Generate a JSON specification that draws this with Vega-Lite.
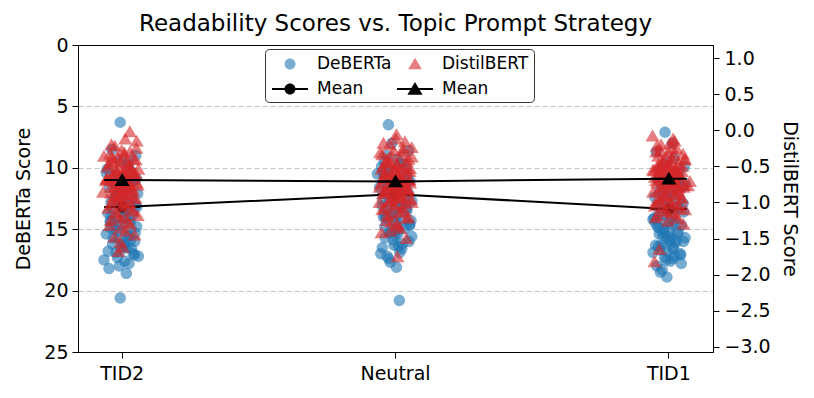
{
  "$schema": "https://vega.github.io/schema/vega-lite/v6.json",
  "autosize": "none",
  "padding": {"left": 78, "top": 45, "right": 101, "bottom": 46},
  "width": 635,
  "height": 307,
  "title": {"text": "Readability Scores vs. Topic Prompt Strategy", "fontSize": 23, "font": "DejaVu Sans", "fontWeight": "normal", "color": "black", "offset": 0},
  "config": {
    "font": "DejaVu Sans",
    "view": {"stroke": "black", "strokeWidth": 1},
    "axis": {"domainColor": "black", "tickColor": "black", "labelColor": "black", "titleColor": "black", "titleFontWeight": "normal", "labelFont": "DejaVu Sans", "titleFont": "DejaVu Sans", "tickSize": 6, "labelFontSize": 19, "titleFontSize": 19, "labelPadding": 4},
    "legend": {"orient": "none", "legendX": 187, "legendY": 4, "columns": 2, "title": null, "symbolSize": 400, "symbolOffset": 10, "labelFontSize": 17, "labelFont": "DejaVu Sans", "labelColor": "black", "padding": 5, "fillColor": "white", "strokeColor": "#333", "cornerRadius": 4, "columnPadding": 3, "rowPadding": 7, "labelOffset": 17, "symbolStrokeWidth": 0, "symbolOpacity": 1}
  },
  "datasets": {
    "deb": [
      {"p":"TID2","v":6.3,"j":-0.1},{"p":"TID2","v":8.5,"j":-0.54},{"p":"TID2","v":9.0,"j":0.71},{"p":"TID2","v":9.4,"j":-0.08},{"p":"TID2","v":9.8,"j":0.33},{"p":"TID2","v":10.1,"j":-0.77},{"p":"TID2","v":10.3,"j":0.46},{"p":"TID2","v":10.6,"j":-0.29},{"p":"TID2","v":10.8,"j":0.05},{"p":"TID2","v":11.0,"j":0.62},
      {"p":"TID2","v":11.2,"j":-0.41},{"p":"TID2","v":11.4,"j":0.18},{"p":"TID2","v":11.6,"j":-0.66},{"p":"TID2","v":11.8,"j":0.27},{"p":"TID2","v":12.0,"j":-0.12},{"p":"TID2","v":12.1,"j":0.81},{"p":"TID2","v":12.3,"j":-0.35},{"p":"TID2","v":12.5,"j":0.52},{"p":"TID2","v":12.6,"j":-0.02},{"p":"TID2","v":12.8,"j":-0.58},
      {"p":"TID2","v":12.9,"j":0.39},{"p":"TID2","v":13.0,"j":-0.19},{"p":"TID2","v":13.1,"j":0.68},{"p":"TID2","v":13.3,"j":-0.47},{"p":"TID2","v":13.4,"j":0.09},{"p":"TID2","v":13.5,"j":0.24},{"p":"TID2","v":13.7,"j":-0.73},{"p":"TID2","v":13.8,"j":0.57},{"p":"TID2","v":14.0,"j":-0.25},{"p":"TID2","v":14.1,"j":0.14},
      {"p":"TID2","v":14.3,"j":-0.6},{"p":"TID2","v":14.5,"j":0.43},{"p":"TID2","v":14.6,"j":-0.06},{"p":"TID2","v":14.8,"j":0.76},{"p":"TID2","v":15.0,"j":-0.38},{"p":"TID2","v":15.2,"j":0.2},{"p":"TID2","v":15.4,"j":-0.83},{"p":"TID2","v":15.6,"j":0.31},{"p":"TID2","v":15.8,"j":-0.15},{"p":"TID2","v":16.0,"j":0.65},
      {"p":"TID2","v":16.2,"j":-0.5},{"p":"TID2","v":16.4,"j":0.02},{"p":"TID2","v":16.6,"j":0.49},{"p":"TID2","v":16.9,"j":-0.32},{"p":"TID2","v":17.2,"j":0.85},{"p":"TID2","v":17.5,"j":-0.95},{"p":"TID2","v":17.8,"j":0.36},{"p":"TID2","v":18.2,"j":-0.69},{"p":"TID2","v":18.6,"j":0.22},{"p":"TID2","v":20.6,"j":-0.1},
      {"p":"TID2","v":11.1,"j":0.59},{"p":"TID2","v":12.2,"j":-0.22},{"p":"TID2","v":13.6,"j":0.07},{"p":"TID2","v":14.4,"j":-0.63},{"p":"TID2","v":15.5,"j":0.41},{"p":"TID2","v":12.7,"j":-0.03},{"p":"TID2","v":10.9,"j":0.74},{"p":"TID2","v":13.9,"j":-0.56},{"p":"TID2","v":16.3,"j":0.16},{"p":"TID2","v":15.1,"j":-0.27},
      {"p":"TID2","v":14.2,"j":0.39},{"p":"TID2","v":14.7,"j":-0.19},{"p":"TID2","v":15.3,"j":0.68},{"p":"TID2","v":15.7,"j":-0.47},{"p":"TID2","v":16.1,"j":0.09},{"p":"TID2","v":16.5,"j":0.24},{"p":"TID2","v":16.8,"j":-0.73},{"p":"TID2","v":17.0,"j":0.57},{"p":"TID2","v":17.3,"j":-0.25},{"p":"TID2","v":17.6,"j":0.14},
      {"p":"TID2","v":14.9,"j":-0.6},{"p":"TID2","v":15.9,"j":0.43},{"p":"TID2","v":16.7,"j":-0.06},{"p":"TID2","v":13.2,"j":0.76},{"p":"TID2","v":12.4,"j":-0.38},{"p":"TID2","v":11.5,"j":0.2},{"p":"TID2","v":10.4,"j":-0.83},{"p":"TID2","v":9.6,"j":0.31},{"p":"TID2","v":18.0,"j":-0.15},{"p":"TID2","v":17.1,"j":0.65},
      {"p":"Neutral","v":6.5,"j":-0.37},{"p":"Neutral","v":8.0,"j":-0.19},{"p":"Neutral","v":8.6,"j":0.68},{"p":"Neutral","v":9.0,"j":-0.47},{"p":"Neutral","v":9.3,"j":0.09},{"p":"Neutral","v":9.6,"j":0.24},{"p":"Neutral","v":9.9,"j":-0.73},{"p":"Neutral","v":10.1,"j":0.57},{"p":"Neutral","v":10.3,"j":-0.25},{"p":"Neutral","v":10.5,"j":-0.95},
      {"p":"Neutral","v":10.6,"j":-0.6},{"p":"Neutral","v":10.8,"j":0.43},{"p":"Neutral","v":11.0,"j":-0.06},{"p":"Neutral","v":11.1,"j":0.76},{"p":"Neutral","v":11.3,"j":-0.38},{"p":"Neutral","v":11.4,"j":0.2},{"p":"Neutral","v":11.6,"j":-0.83},{"p":"Neutral","v":11.7,"j":0.31},{"p":"Neutral","v":11.9,"j":-0.15},{"p":"Neutral","v":12.0,"j":0.65},
      {"p":"Neutral","v":12.1,"j":-0.5},{"p":"Neutral","v":12.3,"j":0.02},{"p":"Neutral","v":12.4,"j":0.49},{"p":"Neutral","v":12.5,"j":-0.32},{"p":"Neutral","v":12.7,"j":0.85},{"p":"Neutral","v":12.8,"j":-0.1},{"p":"Neutral","v":12.9,"j":0.36},{"p":"Neutral","v":13.1,"j":-0.69},{"p":"Neutral","v":13.2,"j":0.22},{"p":"Neutral","v":13.4,"j":-0.44},
      {"p":"Neutral","v":13.5,"j":0.59},{"p":"Neutral","v":13.7,"j":-0.22},{"p":"Neutral","v":13.9,"j":0.07},{"p":"Neutral","v":14.0,"j":-0.63},{"p":"Neutral","v":14.2,"j":0.41},{"p":"Neutral","v":14.4,"j":-0.03},{"p":"Neutral","v":14.6,"j":0.74},{"p":"Neutral","v":14.8,"j":-0.56},{"p":"Neutral","v":15.0,"j":0.16},{"p":"Neutral","v":15.2,"j":-0.27},
      {"p":"Neutral","v":15.4,"j":0.12},{"p":"Neutral","v":15.7,"j":-0.54},{"p":"Neutral","v":16.0,"j":0.71},{"p":"Neutral","v":16.3,"j":-0.08},{"p":"Neutral","v":16.6,"j":0.33},{"p":"Neutral","v":17.0,"j":-0.77},{"p":"Neutral","v":17.4,"j":-0.35},{"p":"Neutral","v":18.1,"j":0.05},{"p":"Neutral","v":20.8,"j":0.2},{"p":"Neutral","v":10.7,"j":0.62},
      {"p":"Neutral","v":11.5,"j":-0.41},{"p":"Neutral","v":12.2,"j":0.18},{"p":"Neutral","v":12.6,"j":-0.66},{"p":"Neutral","v":13.0,"j":0.27},{"p":"Neutral","v":13.6,"j":-0.12},{"p":"Neutral","v":14.3,"j":0.81},{"p":"Neutral","v":10.2,"j":-0.35},{"p":"Neutral","v":11.8,"j":0.52},{"p":"Neutral","v":15.5,"j":-0.02},{"p":"Neutral","v":9.5,"j":-0.58},
      {"p":"Neutral","v":14.1,"j":-0.5},{"p":"Neutral","v":14.5,"j":0.02},{"p":"Neutral","v":14.9,"j":0.49},{"p":"Neutral","v":15.3,"j":-0.32},{"p":"Neutral","v":15.6,"j":0.85},{"p":"Neutral","v":15.9,"j":-0.1},{"p":"Neutral","v":16.2,"j":0.36},{"p":"Neutral","v":16.5,"j":-0.69},{"p":"Neutral","v":16.9,"j":0.22},{"p":"Neutral","v":17.2,"j":-0.44},
      {"p":"Neutral","v":13.3,"j":0.59},{"p":"Neutral","v":12.0,"j":-0.22},{"p":"Neutral","v":11.2,"j":0.07},{"p":"Neutral","v":10.4,"j":-0.63},{"p":"Neutral","v":9.7,"j":0.41},{"p":"Neutral","v":15.1,"j":-0.03},{"p":"Neutral","v":14.7,"j":0.74},{"p":"Neutral","v":13.8,"j":-0.56},{"p":"Neutral","v":16.4,"j":0.16},{"p":"Neutral","v":17.7,"j":-0.27},
      {"p":"TID1","v":7.1,"j":-0.2},{"p":"TID1","v":8.0,"j":0.18},{"p":"TID1","v":8.7,"j":-0.66},{"p":"TID1","v":9.2,"j":0.27},{"p":"TID1","v":9.6,"j":-0.12},{"p":"TID1","v":9.9,"j":0.81},{"p":"TID1","v":10.2,"j":-0.35},{"p":"TID1","v":10.5,"j":0.52},{"p":"TID1","v":10.7,"j":-0.02},{"p":"TID1","v":11.0,"j":-0.58},
      {"p":"TID1","v":11.2,"j":0.39},{"p":"TID1","v":11.4,"j":-0.19},{"p":"TID1","v":11.6,"j":0.68},{"p":"TID1","v":11.8,"j":-0.47},{"p":"TID1","v":12.0,"j":0.09},{"p":"TID1","v":12.2,"j":0.24},{"p":"TID1","v":12.4,"j":-0.73},{"p":"TID1","v":12.6,"j":0.57},{"p":"TID1","v":12.8,"j":-0.25},{"p":"TID1","v":13.0,"j":0.14},
      {"p":"TID1","v":13.1,"j":-0.6},{"p":"TID1","v":13.3,"j":0.43},{"p":"TID1","v":13.5,"j":-0.06},{"p":"TID1","v":13.6,"j":0.76},{"p":"TID1","v":13.8,"j":-0.38},{"p":"TID1","v":14.0,"j":0.2},{"p":"TID1","v":14.2,"j":-0.83},{"p":"TID1","v":14.4,"j":0.31},{"p":"TID1","v":14.5,"j":-0.15},{"p":"TID1","v":14.7,"j":0.65},
      {"p":"TID1","v":14.9,"j":-0.5},{"p":"TID1","v":15.1,"j":0.02},{"p":"TID1","v":15.3,"j":0.49},{"p":"TID1","v":15.5,"j":-0.32},{"p":"TID1","v":15.7,"j":0.85},{"p":"TID1","v":15.9,"j":-0.1},{"p":"TID1","v":16.1,"j":0.36},{"p":"TID1","v":16.3,"j":-0.69},{"p":"TID1","v":16.5,"j":0.22},{"p":"TID1","v":16.7,"j":-0.44},
      {"p":"TID1","v":17.0,"j":0.59},{"p":"TID1","v":17.3,"j":-0.22},{"p":"TID1","v":17.6,"j":0.07},{"p":"TID1","v":18.0,"j":-0.63},{"p":"TID1","v":18.3,"j":-0.35},{"p":"TID1","v":18.9,"j":-0.1},{"p":"TID1","v":12.9,"j":0.74},{"p":"TID1","v":13.9,"j":-0.56},{"p":"TID1","v":14.6,"j":0.16},{"p":"TID1","v":15.2,"j":-0.27},
      {"p":"TID1","v":15.8,"j":0.12},{"p":"TID1","v":16.4,"j":-0.54},{"p":"TID1","v":11.5,"j":0.71},{"p":"TID1","v":12.5,"j":-0.08},{"p":"TID1","v":13.4,"j":0.33},{"p":"TID1","v":14.1,"j":-0.77},{"p":"TID1","v":10.9,"j":0.46},{"p":"TID1","v":15.0,"j":-0.29},{"p":"TID1","v":16.0,"j":0.05},{"p":"TID1","v":17.1,"j":0.62},
      {"p":"TID1","v":14.8,"j":-0.6},{"p":"TID1","v":15.2,"j":0.43},{"p":"TID1","v":15.6,"j":-0.06},{"p":"TID1","v":16.0,"j":0.76},{"p":"TID1","v":16.3,"j":-0.38},{"p":"TID1","v":16.6,"j":0.2},{"p":"TID1","v":16.9,"j":-0.83},{"p":"TID1","v":17.2,"j":0.31},{"p":"TID1","v":17.5,"j":-0.15},{"p":"TID1","v":17.8,"j":0.65},
      {"p":"TID1","v":15.4,"j":-0.5},{"p":"TID1","v":14.3,"j":0.02},{"p":"TID1","v":13.2,"j":0.49},{"p":"TID1","v":12.1,"j":-0.32},{"p":"TID1","v":11.3,"j":0.85},{"p":"TID1","v":16.8,"j":-0.1},{"p":"TID1","v":15.9,"j":0.36},{"p":"TID1","v":14.5,"j":-0.69},{"p":"TID1","v":17.4,"j":0.22},{"p":"TID1","v":18.5,"j":-0.44}
    ],
    "dis": [
      {"p":"TID2","v":-0.02,"j":0.4},{"p":"TID2","v":-0.12,"j":0.16},{"p":"TID2","v":-0.2,"j":-0.56},{"p":"TID2","v":-0.25,"j":0.74},{"p":"TID2","v":-0.28,"j":-0.03},{"p":"TID2","v":-0.3,"j":0.41},{"p":"TID2","v":-0.33,"j":-0.63},{"p":"TID2","v":-0.36,"j":-0.95},{"p":"TID2","v":-0.38,"j":-0.22},{"p":"TID2","v":-0.4,"j":0.59},
      {"p":"TID2","v":-0.42,"j":-0.44},{"p":"TID2","v":-0.45,"j":0.22},{"p":"TID2","v":-0.47,"j":-0.69},{"p":"TID2","v":-0.5,"j":0.36},{"p":"TID2","v":-0.52,"j":-0.1},{"p":"TID2","v":-0.54,"j":0.85},{"p":"TID2","v":-0.56,"j":-0.32},{"p":"TID2","v":-0.58,"j":0.49},{"p":"TID2","v":-0.6,"j":0.02},{"p":"TID2","v":-0.62,"j":-0.5},
      {"p":"TID2","v":-0.63,"j":0.65},{"p":"TID2","v":-0.65,"j":-0.15},{"p":"TID2","v":-0.67,"j":0.31},{"p":"TID2","v":-0.68,"j":-0.83},{"p":"TID2","v":-0.7,"j":0.2},{"p":"TID2","v":-0.71,"j":-0.38},{"p":"TID2","v":-0.73,"j":0.76},{"p":"TID2","v":-0.75,"j":-0.06},{"p":"TID2","v":-0.77,"j":0.43},{"p":"TID2","v":-0.79,"j":-0.6},
      {"p":"TID2","v":-0.8,"j":0.14},{"p":"TID2","v":-0.82,"j":-0.25},{"p":"TID2","v":-0.84,"j":0.57},{"p":"TID2","v":-0.86,"j":-1.0},{"p":"TID2","v":-0.88,"j":0.24},{"p":"TID2","v":-0.9,"j":0.09},{"p":"TID2","v":-0.92,"j":-0.47},{"p":"TID2","v":-0.95,"j":0.68},{"p":"TID2","v":-0.98,"j":-0.19},{"p":"TID2","v":-1.0,"j":0.39},
      {"p":"TID2","v":-1.03,"j":-0.58},{"p":"TID2","v":-1.06,"j":-0.02},{"p":"TID2","v":-1.1,"j":0.52},{"p":"TID2","v":-1.14,"j":-0.35},{"p":"TID2","v":-1.18,"j":0.81},{"p":"TID2","v":-1.22,"j":-0.12},{"p":"TID2","v":-1.27,"j":0.27},{"p":"TID2","v":-1.32,"j":-0.66},{"p":"TID2","v":-1.4,"j":0.18},{"p":"TID2","v":-1.48,"j":-0.41},
      {"p":"TID2","v":-1.55,"j":-0.1},{"p":"TID2","v":-1.62,"j":0.05},{"p":"TID2","v":-1.68,"j":-0.2},{"p":"TID2","v":-0.55,"j":0.46},{"p":"TID2","v":-0.66,"j":-0.77},{"p":"TID2","v":-0.74,"j":0.33},{"p":"TID2","v":-0.85,"j":-0.08},{"p":"TID2","v":-0.6,"j":0.71},{"p":"TID2","v":-0.45,"j":-0.54},{"p":"TID2","v":-0.35,"j":0.12},
      {"p":"TID2","v":-0.31,"j":0.12},{"p":"TID2","v":-0.37,"j":-0.54},{"p":"TID2","v":-0.41,"j":0.71},{"p":"TID2","v":-0.44,"j":-0.08},{"p":"TID2","v":-0.48,"j":0.33},{"p":"TID2","v":-0.51,"j":-0.77},{"p":"TID2","v":-0.53,"j":0.46},{"p":"TID2","v":-0.57,"j":-0.29},{"p":"TID2","v":-0.59,"j":0.05},{"p":"TID2","v":-0.61,"j":0.62},
      {"p":"TID2","v":-0.64,"j":-0.41},{"p":"TID2","v":-0.66,"j":0.18},{"p":"TID2","v":-0.69,"j":-0.66},{"p":"TID2","v":-0.72,"j":0.27},{"p":"TID2","v":-0.74,"j":-0.12},{"p":"TID2","v":-0.76,"j":0.81},{"p":"TID2","v":-0.78,"j":-0.35},{"p":"TID2","v":-0.81,"j":0.52},{"p":"TID2","v":-0.83,"j":-0.02},{"p":"TID2","v":-0.87,"j":-0.58},
      {"p":"TID2","v":-0.89,"j":0.39},{"p":"TID2","v":-0.91,"j":-0.19},{"p":"TID2","v":-0.94,"j":0.68},{"p":"TID2","v":-0.97,"j":-0.47},{"p":"TID2","v":-1.01,"j":0.09},{"p":"TID2","v":-1.04,"j":0.24},{"p":"TID2","v":-1.08,"j":-0.73},{"p":"TID2","v":-1.12,"j":0.57},{"p":"TID2","v":-1.16,"j":-0.25},{"p":"TID2","v":-1.2,"j":0.14},
      {"p":"TID2","v":-1.25,"j":-0.6},{"p":"TID2","v":-1.3,"j":0.43},{"p":"TID2","v":-1.35,"j":-0.06},{"p":"TID2","v":-0.15,"j":0.76},{"p":"TID2","v":-0.22,"j":-0.38},{"p":"TID2","v":-0.62,"j":0.2},{"p":"TID2","v":-0.7,"j":-0.83},{"p":"TID2","v":-0.79,"j":0.31},{"p":"TID2","v":-0.93,"j":-0.15},{"p":"TID2","v":-1.45,"j":0.65},
      {"p":"Neutral","v":-0.06,"j":0.05},{"p":"Neutral","v":-0.12,"j":0.02},{"p":"Neutral","v":-0.16,"j":0.49},{"p":"Neutral","v":-0.2,"j":-0.32},{"p":"Neutral","v":-0.24,"j":0.85},{"p":"Neutral","v":-0.28,"j":-0.1},{"p":"Neutral","v":-0.31,"j":-0.8},{"p":"Neutral","v":-0.34,"j":-0.69},{"p":"Neutral","v":-0.37,"j":0.85},{"p":"Neutral","v":-0.4,"j":-0.44},
      {"p":"Neutral","v":-0.43,"j":0.59},{"p":"Neutral","v":-0.46,"j":-0.22},{"p":"Neutral","v":-0.48,"j":0.07},{"p":"Neutral","v":-0.5,"j":-0.63},{"p":"Neutral","v":-0.52,"j":0.41},{"p":"Neutral","v":-0.55,"j":-0.03},{"p":"Neutral","v":-0.57,"j":0.74},{"p":"Neutral","v":-0.59,"j":-0.56},{"p":"Neutral","v":-0.61,"j":0.16},{"p":"Neutral","v":-0.63,"j":-0.27},
      {"p":"Neutral","v":-0.65,"j":0.12},{"p":"Neutral","v":-0.67,"j":-0.54},{"p":"Neutral","v":-0.69,"j":0.71},{"p":"Neutral","v":-0.7,"j":-0.08},{"p":"Neutral","v":-0.72,"j":0.33},{"p":"Neutral","v":-0.74,"j":-0.77},{"p":"Neutral","v":-0.76,"j":0.46},{"p":"Neutral","v":-0.78,"j":-0.29},{"p":"Neutral","v":-0.8,"j":0.05},{"p":"Neutral","v":-0.82,"j":0.62},
      {"p":"Neutral","v":-0.84,"j":-0.41},{"p":"Neutral","v":-0.86,"j":0.18},{"p":"Neutral","v":-0.88,"j":-0.66},{"p":"Neutral","v":-0.9,"j":0.27},{"p":"Neutral","v":-0.93,"j":-0.12},{"p":"Neutral","v":-0.96,"j":0.81},{"p":"Neutral","v":-0.99,"j":-0.35},{"p":"Neutral","v":-1.02,"j":0.52},{"p":"Neutral","v":-1.05,"j":-0.02},{"p":"Neutral","v":-1.08,"j":-0.58},
      {"p":"Neutral","v":-1.12,"j":0.39},{"p":"Neutral","v":-1.16,"j":-0.19},{"p":"Neutral","v":-1.2,"j":0.68},{"p":"Neutral","v":-1.25,"j":-0.47},{"p":"Neutral","v":-1.3,"j":0.09},{"p":"Neutral","v":-1.36,"j":0.24},{"p":"Neutral","v":-1.42,"j":-0.73},{"p":"Neutral","v":-1.5,"j":0.57},{"p":"Neutral","v":-1.75,"j":0.1},{"p":"Neutral","v":-0.6,"j":0.14},
      {"p":"Neutral","v":-0.64,"j":-0.6},{"p":"Neutral","v":-0.71,"j":0.43},{"p":"Neutral","v":-0.77,"j":-0.06},{"p":"Neutral","v":-0.53,"j":0.76},{"p":"Neutral","v":-0.44,"j":-0.38},{"p":"Neutral","v":-0.92,"j":0.2},{"p":"Neutral","v":-1.0,"j":-0.83},{"p":"Neutral","v":-0.35,"j":0.31},{"p":"Neutral","v":-0.68,"j":-0.15},{"p":"Neutral","v":-0.81,"j":0.65},
      {"p":"Neutral","v":-0.29,"j":0.39},{"p":"Neutral","v":-0.36,"j":-0.19},{"p":"Neutral","v":-0.4,"j":0.68},{"p":"Neutral","v":-0.45,"j":-0.47},{"p":"Neutral","v":-0.47,"j":0.09},{"p":"Neutral","v":-0.51,"j":0.24},{"p":"Neutral","v":-0.54,"j":-0.73},{"p":"Neutral","v":-0.56,"j":0.57},{"p":"Neutral","v":-0.6,"j":-0.25},{"p":"Neutral","v":-0.62,"j":0.14},
      {"p":"Neutral","v":-0.65,"j":-0.6},{"p":"Neutral","v":-0.66,"j":0.43},{"p":"Neutral","v":-0.7,"j":-0.06},{"p":"Neutral","v":-0.73,"j":0.76},{"p":"Neutral","v":-0.75,"j":-0.38},{"p":"Neutral","v":-0.77,"j":0.2},{"p":"Neutral","v":-0.79,"j":-0.83},{"p":"Neutral","v":-0.8,"j":0.31},{"p":"Neutral","v":-0.83,"j":-0.15},{"p":"Neutral","v":-0.85,"j":0.65},
      {"p":"Neutral","v":-0.87,"j":-0.5},{"p":"Neutral","v":-0.91,"j":0.02},{"p":"Neutral","v":-0.94,"j":0.49},{"p":"Neutral","v":-0.98,"j":-0.32},{"p":"Neutral","v":-1.0,"j":0.85},{"p":"Neutral","v":-1.03,"j":-0.1},{"p":"Neutral","v":-1.07,"j":0.36},{"p":"Neutral","v":-1.1,"j":-0.69},{"p":"Neutral","v":-1.14,"j":0.22},{"p":"Neutral","v":-1.18,"j":-0.44},
      {"p":"Neutral","v":-1.22,"j":0.59},{"p":"Neutral","v":-1.27,"j":-0.22},{"p":"Neutral","v":-1.33,"j":0.07},{"p":"Neutral","v":-0.18,"j":-0.63},{"p":"Neutral","v":-0.25,"j":0.41},{"p":"Neutral","v":-0.58,"j":-0.03},{"p":"Neutral","v":-0.69,"j":0.74},{"p":"Neutral","v":-0.84,"j":-0.56},{"p":"Neutral","v":-0.95,"j":0.16},{"p":"Neutral","v":-1.4,"j":-0.27},
      {"p":"TID1","v":-0.08,"j":-0.85},{"p":"TID1","v":-0.15,"j":0.3},{"p":"TID1","v":-0.18,"j":0.07},{"p":"TID1","v":-0.22,"j":-0.63},{"p":"TID1","v":-0.26,"j":0.41},{"p":"TID1","v":-0.3,"j":-0.03},{"p":"TID1","v":-0.33,"j":0.74},{"p":"TID1","v":-0.36,"j":-0.56},{"p":"TID1","v":-0.39,"j":0.16},{"p":"TID1","v":-0.42,"j":-0.27},
      {"p":"TID1","v":-0.45,"j":0.12},{"p":"TID1","v":-0.47,"j":-0.54},{"p":"TID1","v":-0.5,"j":0.71},{"p":"TID1","v":-0.52,"j":-0.08},{"p":"TID1","v":-0.54,"j":0.33},{"p":"TID1","v":-0.56,"j":-0.77},{"p":"TID1","v":-0.58,"j":0.46},{"p":"TID1","v":-0.6,"j":-0.29},{"p":"TID1","v":-0.62,"j":0.05},{"p":"TID1","v":-0.64,"j":0.62},
      {"p":"TID1","v":-0.66,"j":-0.41},{"p":"TID1","v":-0.68,"j":0.18},{"p":"TID1","v":-0.7,"j":-0.66},{"p":"TID1","v":-0.72,"j":0.27},{"p":"TID1","v":-0.74,"j":-0.12},{"p":"TID1","v":-0.76,"j":0.81},{"p":"TID1","v":-0.78,"j":-0.35},{"p":"TID1","v":-0.8,"j":0.52},{"p":"TID1","v":-0.82,"j":-0.02},{"p":"TID1","v":-0.85,"j":-0.58},
      {"p":"TID1","v":-0.88,"j":0.39},{"p":"TID1","v":-0.9,"j":-0.19},{"p":"TID1","v":-0.93,"j":0.68},{"p":"TID1","v":-0.96,"j":-0.47},{"p":"TID1","v":-0.99,"j":0.09},{"p":"TID1","v":-1.02,"j":0.24},{"p":"TID1","v":-1.05,"j":-0.73},{"p":"TID1","v":-1.08,"j":0.57},{"p":"TID1","v":-1.11,"j":-0.25},{"p":"TID1","v":-1.14,"j":0.14},
      {"p":"TID1","v":-1.18,"j":-0.6},{"p":"TID1","v":-1.22,"j":0.43},{"p":"TID1","v":-1.26,"j":-0.06},{"p":"TID1","v":-1.3,"j":0.76},{"p":"TID1","v":-1.65,"j":-0.5},{"p":"TID1","v":-1.82,"j":-0.75},{"p":"TID1","v":-0.55,"j":-0.83},{"p":"TID1","v":-0.63,"j":0.31},{"p":"TID1","v":-0.71,"j":1.1},{"p":"TID1","v":-0.77,"j":1.0},
      {"p":"TID1","v":-0.6,"j":-0.5},{"p":"TID1","v":-0.48,"j":0.02},{"p":"TID1","v":-0.84,"j":0.49},{"p":"TID1","v":-0.92,"j":-0.32},{"p":"TID1","v":-0.4,"j":0.85},{"p":"TID1","v":-0.67,"j":-0.1},{"p":"TID1","v":-0.73,"j":0.36},{"p":"TID1","v":-1.0,"j":-0.69},{"p":"TID1","v":-0.58,"j":0.22},{"p":"TID1","v":-0.5,"j":-0.44},
      {"p":"TID1","v":-0.2,"j":-0.41},{"p":"TID1","v":-0.25,"j":0.18},{"p":"TID1","v":-0.3,"j":-0.66},{"p":"TID1","v":-0.35,"j":0.27},{"p":"TID1","v":-0.38,"j":-0.12},{"p":"TID1","v":-0.41,"j":0.81},{"p":"TID1","v":-0.44,"j":-0.35},{"p":"TID1","v":-0.46,"j":0.52},{"p":"TID1","v":-0.49,"j":-0.02},{"p":"TID1","v":-0.51,"j":-0.58},
      {"p":"TID1","v":-0.53,"j":0.39},{"p":"TID1","v":-0.55,"j":-0.19},{"p":"TID1","v":-0.57,"j":0.68},{"p":"TID1","v":-0.59,"j":-0.47},{"p":"TID1","v":-0.61,"j":0.09},{"p":"TID1","v":-0.63,"j":0.24},{"p":"TID1","v":-0.65,"j":-0.73},{"p":"TID1","v":-0.67,"j":0.57},{"p":"TID1","v":-0.69,"j":-0.25},{"p":"TID1","v":-0.71,"j":0.14},
      {"p":"TID1","v":-0.73,"j":-0.6},{"p":"TID1","v":-0.75,"j":0.43},{"p":"TID1","v":-0.77,"j":-0.06},{"p":"TID1","v":-0.79,"j":0.76},{"p":"TID1","v":-0.81,"j":-0.38},{"p":"TID1","v":-0.83,"j":0.2},{"p":"TID1","v":-0.86,"j":-0.83},{"p":"TID1","v":-0.89,"j":0.31},{"p":"TID1","v":-0.92,"j":-0.15},{"p":"TID1","v":-0.95,"j":0.65},
      {"p":"TID1","v":-0.98,"j":-0.5},{"p":"TID1","v":-1.01,"j":0.02},{"p":"TID1","v":-1.04,"j":0.49},{"p":"TID1","v":-1.07,"j":-0.32},{"p":"TID1","v":-1.1,"j":0.85},{"p":"TID1","v":-1.13,"j":-0.1},{"p":"TID1","v":-1.17,"j":0.36},{"p":"TID1","v":-1.21,"j":-0.69},{"p":"TID1","v":-0.12,"j":0.22},{"p":"TID1","v":-0.28,"j":-0.44}
    ],
    "debMean": [{"p":"TID2","v":13.2},{"p":"Neutral","v":12.15},{"p":"TID1","v":13.35}],
    "disMean": [{"p":"TID2","v":-0.69},{"p":"Neutral","v":-0.71},{"p":"TID1","v":-0.67}]
  },
  "encoding": {
    "x": {"field": "p", "type": "nominal", "sort": ["TID2", "Neutral", "TID1"],
      "scale": {"paddingInner": 0.86, "paddingOuter": 0.0915},
      "axis": {"title": null, "labelAngle": 0, "grid": false, "labelPadding": 6}}
  },
  "layer": [
    {
      "encoding": {
        "y": {"field": "v", "type": "quantitative",
          "scale": {"domain": [0, 25], "reverse": true, "nice": false, "zero": false},
          "axis": {"orient": "left", "title": "DeBERTa Score", "values": [0, 5, 10, 15, 20, 25], "grid": true, "gridDash": [5, 3], "gridColor": "#c4c4c4", "gridWidth": 1,
            "gridOpacity": {"condition": {"test": "datum.value == 0 || datum.value == 25", "value": 0}, "value": 1}, "titlePadding": 10}}
      },
      "layer": [
        {
          "data": {"name": "deb"},
          "mark": {"type": "point", "filled": true, "size": 430, "opacity": 1},
          "encoding": {
            "xOffset": {"field": "j", "type": "quantitative", "scale": {"domain": [-1, 1]}},
            "color": {"datum": "DeBERTa", "type": "nominal",
              "scale": {"domain": ["DeBERTa", "Mean (DeBERTa)", "DistilBERT", "Mean (DistilBERT)"], "range": ["rgba(31,119,180,0.6)", "black", "rgba(214,39,40,0.6)", "black"]},
              "legend": {"labelExpr": "datum.label == 'DeBERTa' || datum.label == 'DistilBERT' ? datum.label : 'Mean'"}},
            "shape": {"datum": "DeBERTa", "type": "nominal",
              "scale": {"domain": ["DeBERTa", "Mean (DeBERTa)", "DistilBERT", "Mean (DistilBERT)"],
                "range": ["M0.55,0A0.55,0.55 0 1,1 -0.55,0A0.55,0.55 0 1,1 0.55,0Z", "M-1.8,-0.1L1.8,-0.1L1.8,0.1L-1.8,0.1ZM0.55,0A0.55,0.55 0 1,1 -0.55,0A0.55,0.55 0 1,1 0.55,0Z", "M0,-0.62L0.68,0.53L-0.68,0.53Z", "M-1.8,-0.1L1.8,-0.1L1.8,0.1L-1.8,0.1ZM0,-0.7L0.76,0.58L-0.76,0.58Z"]},
              "legend": {"labelExpr": "datum.label == 'DeBERTa' || datum.label == 'DistilBERT' ? datum.label : 'Mean'"}}
          }
        },
        {
          "data": {"name": "debMean"},
          "mark": {"type": "line", "strokeWidth": 2, "opacity": 1, "point": {"filled": true, "size": 400, "opacity": 1}},
          "encoding": {
            "color": {"datum": "Mean (DeBERTa)", "type": "nominal"},
            "shape": {"datum": "Mean (DeBERTa)", "type": "nominal"}
          }
        }
      ]
    },
    {
      "encoding": {
        "y": {"field": "v", "type": "quantitative",
          "scale": {"domain": [-3.07, 1.18], "nice": false, "zero": false},
          "axis": {"orient": "right", "title": "DistilBERT Score", "values": [-3, -2.5, -2, -1.5, -1, -0.5, 0, 0.5, 1], "format": ".1f", "grid": false, "titlePadding": 9, "labelPadding": 5}}
      },
      "layer": [
        {
          "data": {"name": "dis"},
          "mark": {"type": "point", "filled": true, "size": 430, "opacity": 1},
          "encoding": {
            "xOffset": {"field": "j", "type": "quantitative", "scale": {"domain": [-1, 1]}},
            "color": {"datum": "DistilBERT", "type": "nominal"},
            "shape": {"datum": "DistilBERT", "type": "nominal"}
          }
        },
        {
          "data": {"name": "disMean"},
          "mark": {"type": "line", "strokeWidth": 2, "opacity": 1, "point": {"filled": true, "size": 400, "opacity": 1}},
          "encoding": {
            "color": {"datum": "Mean (DistilBERT)", "type": "nominal"},
            "shape": {"datum": "Mean (DistilBERT)", "type": "nominal"}
          }
        }
      ]
    }
  ],
  "resolve": {"scale": {"y": "independent"}, "axis": {"y": "independent"}}
}
